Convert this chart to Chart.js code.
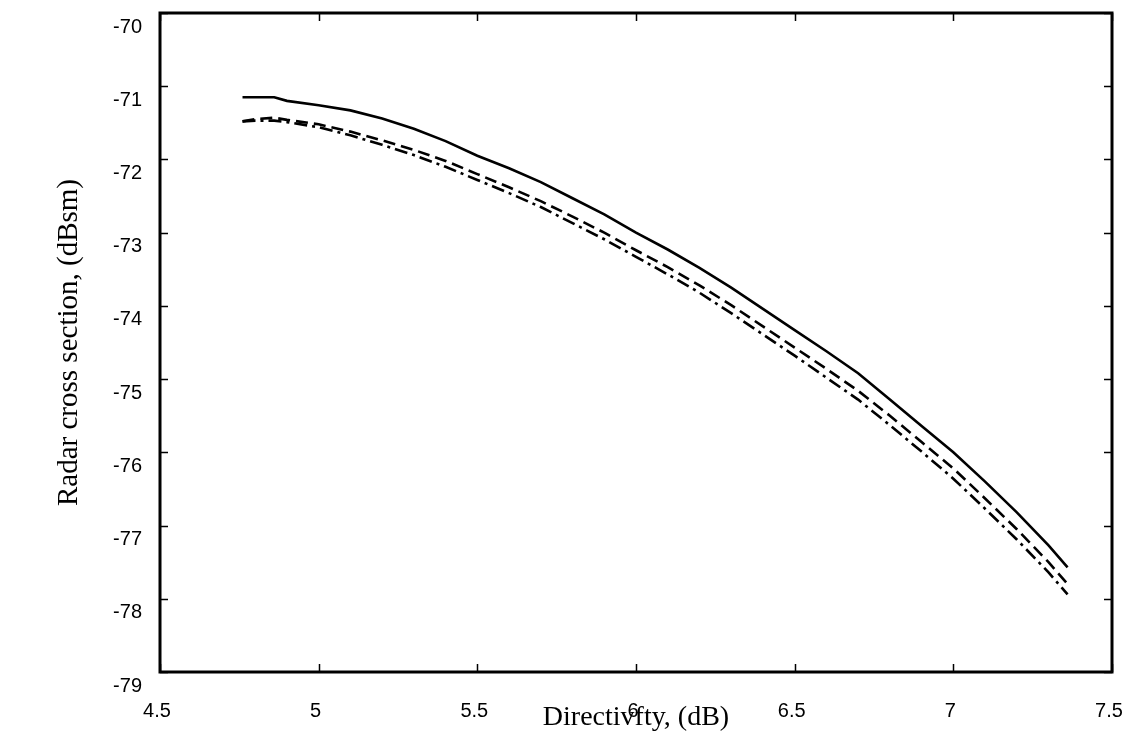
<!DOCTYPE html>
<html>
<head>
<meta charset="utf-8">
<style>
  html, body { margin: 0; padding: 0; background: #fff; }
  #wrap { width: 1143px; height: 739px; }
</style>
<script src="https://cdn.jsdelivr.net/npm/chart.js@4.4.1/dist/chart.umd.min.js"></script>
</head>
<body>
<div id="wrap"><canvas id="myChart" width="1143" height="739"></canvas></div>
<script>
    var xTicks = [4.5, 5, 5.5, 6, 6.5, 7, 7.5];
    var yTicks = [-79, -78, -77, -76, -75, -74, -73, -72, -71, -70];

    var directivity = [4.76, 4.80, 4.86, 4.90, 5.00, 5.10, 5.20, 5.30, 5.40, 5.50,
        5.60, 5.70, 5.80, 5.90, 6.00, 6.10, 6.20, 6.30, 6.40, 6.50,
        6.60, 6.70, 6.80, 6.90, 7.00, 7.10, 7.20, 7.30, 7.36];

    var rcsSolid = [-71.15, -71.15, -71.15, -71.20, -71.26, -71.33, -71.44, -71.58, -71.75, -71.95,
        -72.12, -72.31, -72.53, -72.75, -73.00, -73.23, -73.48, -73.75, -74.04, -74.33,
        -74.62, -74.92, -75.28, -75.64, -76.00, -76.40, -76.82, -77.27, -77.57];

    var rcsDashed = [-71.48, -71.45, -71.43, -71.46, -71.52, -71.62, -71.74, -71.87, -72.02, -72.20,
        -72.38, -72.57, -72.78, -73.00, -73.24, -73.47, -73.72, -73.99, -74.28, -74.57,
        -74.86, -75.16, -75.50, -75.86, -76.22, -76.63, -77.05, -77.50, -77.80];

    var rcsDashDot = [-71.48, -71.47, -71.47, -71.49, -71.56, -71.67, -71.80, -71.94, -72.10, -72.28,
        -72.46, -72.65, -72.87, -73.09, -73.33, -73.57, -73.82, -74.10, -74.39, -74.68,
        -74.98, -75.28, -75.63, -75.99, -76.36, -76.77, -77.19, -77.64, -77.94];

    function pts(ys) {
        return directivity.map(function (x, i) { return { x: x, y: ys[i] }; });
    }

    function noPad(s) {
        s.paddingTop = 0; s.paddingBottom = 0; s.paddingLeft = 0; s.paddingRight = 0;
    }

    // box round the plot with short ticks pointing inwards on all four sides
    var frameTicks = {
        id: 'frameTicks',
        afterDraw: function (chart) {
            var ctx = chart.ctx;
            var a = chart.chartArea;
            var xs = chart.scales.x, ys = chart.scales.y;
            ctx.save();
            ctx.strokeStyle = '#000';
            ctx.lineWidth = 1.5;
            ctx.beginPath();
            xTicks.forEach(function (v) {
                var px = Math.round(xs.getPixelForValue(v)) + 0.5;
                ctx.moveTo(px, a.bottom); ctx.lineTo(px, a.bottom - 8);
                ctx.moveTo(px, a.top); ctx.lineTo(px, a.top + 8);
            });
            yTicks.forEach(function (v) {
                var py = Math.round(ys.getPixelForValue(v)) + 0.5;
                ctx.moveTo(a.left, py); ctx.lineTo(a.left + 8, py);
                ctx.moveTo(a.right, py); ctx.lineTo(a.right - 8, py);
            });
            ctx.stroke();
            ctx.lineWidth = 3;
            ctx.strokeRect(a.left, a.top, a.right - a.left, a.bottom - a.top);
            ctx.restore();
        }
    };

    var data = {
        datasets: [{
            label: 'solid',
            data: pts(rcsSolid),
            borderColor: '#000',
            borderWidth: 2.6
        }, {
            label: 'dashed',
            data: pts(rcsDashed),
            borderColor: '#000',
            borderWidth: 2.6,
            borderDash: [12, 6]
        }, {
            label: 'dash-dot',
            data: pts(rcsDashDot),
            borderColor: '#000',
            borderWidth: 2.6,
            borderDash: [13, 5, 3, 5]
        }]
    };

    var config = {
        type: 'line',
        data: data,
        plugins: [frameTicks],
        options: {
            responsive: false,
            animation: false,
            layout: { padding: { top: 13, right: 31, left: 0, bottom: 0 } },
            elements: { point: { radius: 0 }, line: { tension: 0 } },
            plugins: { legend: { display: false }, tooltip: { enabled: false } },
            scales: {
                x: {
                    type: 'linear',
                    min: 4.5,
                    max: 7.5,
                    afterFit: function (s) { s.height = 67; noPad(s); },
                    afterBuildTicks: function (s) {
                        s.ticks = xTicks.map(function (v) { return { value: v }; });
                    },
                    grid: { display: false, drawTicks: false },
                    border: { display: false },
                    ticks: {
                        autoSkip: false,
                        maxRotation: 0,
                        padding: 27,
                        labelOffset: -3,
                        color: '#000',
                        font: { family: 'Liberation Sans', size: 20 },
                        callback: function (v) { return String(v); }
                    },
                    title: {
                        display: true,
                        text: 'Directivfty, (dB)',
                        color: '#000',
                        font: { family: 'Liberation Serif', size: 28 },
                        padding: { top: 0, bottom: 5 }
                    }
                },
                y: {
                    type: 'linear',
                    min: -79,
                    max: -70,
                    afterFit: function (s) { s.width = 160; noPad(s); },
                    afterBuildTicks: function (s) {
                        s.ticks = yTicks.map(function (v) { return { value: v }; });
                    },
                    grid: { display: false, drawTicks: false },
                    border: { display: false },
                    ticks: {
                        autoSkip: false,
                        padding: 18,
                        labelOffset: 14,
                        color: '#000',
                        font: { family: 'Liberation Sans', size: 20 },
                        callback: function (v) { return String(v); }
                    },
                    title: {
                        display: true,
                        text: 'Radar cross section, (dBsm)',
                        color: '#000',
                        font: { family: 'Liberation Serif', size: 29 },
                        padding: { top: 52, bottom: 0 }
                    }
                }
            }
        }
    };

    var myChart = new Chart(
        document.getElementById('myChart').getContext('2d'),
        config
    );
</script>
</body>
</html>
